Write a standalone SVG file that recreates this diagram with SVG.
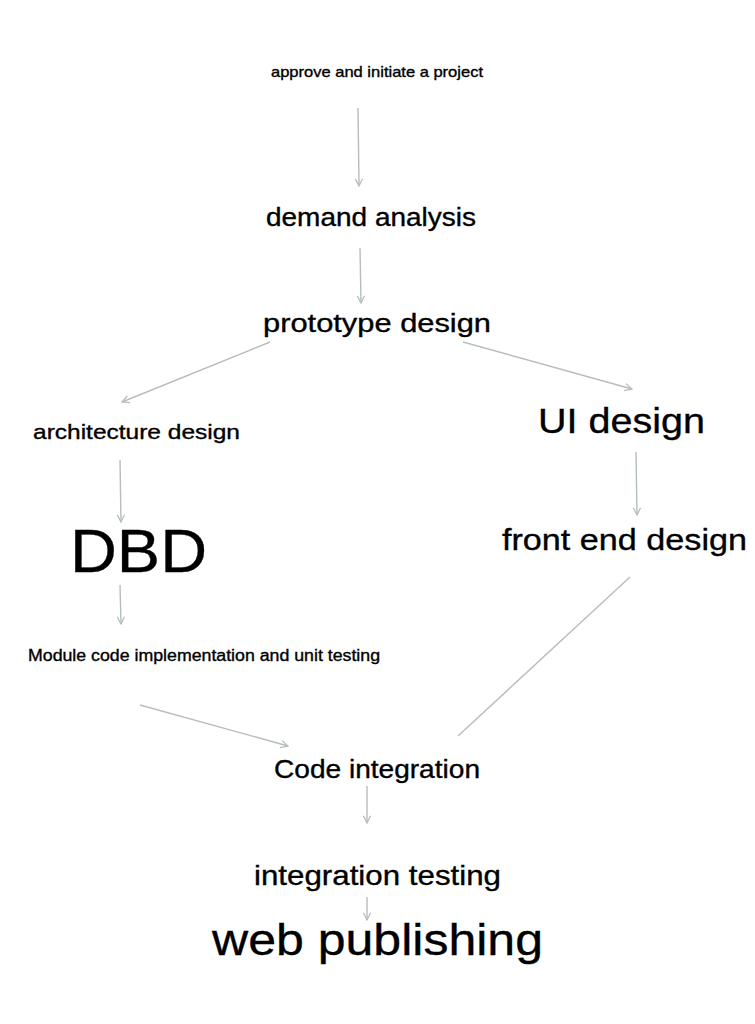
<svg xmlns="http://www.w3.org/2000/svg" width="755" height="1024" viewBox="0 0 755 1024">
<defs>
<style>
.t{font-family:"Liberation Sans",Arial,sans-serif;fill:#000;stroke:#000;stroke-width:0.35}
.c line{stroke:#b5bdbd;stroke-width:1.4;fill:none}
</style>
<marker id="ah" viewBox="0 0 10 10" refX="9" refY="5" markerWidth="9" markerHeight="9" markerUnits="userSpaceOnUse" orient="auto">
<path d="M1,1 L9,5 L1,9" fill="none" stroke="#b5bdbd" stroke-width="1.4"/>
</marker>
</defs>
<rect width="755" height="1024" fill="#fff"/>
<g class="c" id="connectors">
<line x1="358" y1="108" x2="359" y2="186" marker-end="url(#ah)"/>
<line x1="360" y1="248" x2="361" y2="303" marker-end="url(#ah)"/>
<line x1="270" y1="342" x2="122" y2="402" marker-end="url(#ah)"/>
<line x1="463" y1="342" x2="632" y2="389" marker-end="url(#ah)"/>
<line x1="120" y1="460" x2="121" y2="522" marker-end="url(#ah)"/>
<line x1="120" y1="585" x2="121" y2="624" marker-end="url(#ah)"/>
<line x1="636" y1="452" x2="637" y2="515" marker-end="url(#ah)"/>
<line x1="630" y1="577" x2="458" y2="736"/>
<line x1="140" y1="705" x2="288" y2="746" marker-end="url(#ah)"/>
<line x1="367" y1="786" x2="367" y2="823" marker-end="url(#ah)"/>
<line x1="367" y1="897" x2="367" y2="920" marker-end="url(#ah)"/>
</g>
<g id="n-approve"><text class="t" x="271" y="77" font-size="15" textLength="212" lengthAdjust="spacingAndGlyphs">approve and initiate a project</text></g>
<g id="n-demand"><text class="t" x="266" y="226" font-size="25" textLength="210" lengthAdjust="spacingAndGlyphs">demand analysis</text></g>
<g id="n-prototype"><text class="t" x="263" y="332" font-size="26" textLength="228" lengthAdjust="spacingAndGlyphs">prototype design</text></g>
<g id="n-architecture"><text class="t" x="33" y="439" font-size="21" textLength="207" lengthAdjust="spacingAndGlyphs">architecture design</text></g>
<g id="n-ui"><text class="t" x="538" y="433" font-size="35" textLength="167" lengthAdjust="spacingAndGlyphs">UI design</text></g>
<g id="n-dbd"><text class="t" x="70" y="572" font-size="62" textLength="137" lengthAdjust="spacingAndGlyphs">DBD</text></g>
<g id="n-frontend"><text class="t" x="502" y="550" font-size="30" textLength="245" lengthAdjust="spacingAndGlyphs">front end design</text></g>
<g id="n-module"><text class="t" x="28" y="661" font-size="16" textLength="352" lengthAdjust="spacingAndGlyphs">Module code implementation and unit testing</text></g>
<g id="n-code"><text class="t" x="274" y="778" font-size="25" textLength="206" lengthAdjust="spacingAndGlyphs">Code integration</text></g>
<g id="n-itest"><text class="t" x="254" y="885" font-size="28" textLength="247" lengthAdjust="spacingAndGlyphs">integration testing</text></g>
<g id="n-web"><text class="t" x="212" y="955" font-size="44" textLength="331" lengthAdjust="spacingAndGlyphs">web publishing</text></g>
</svg>
